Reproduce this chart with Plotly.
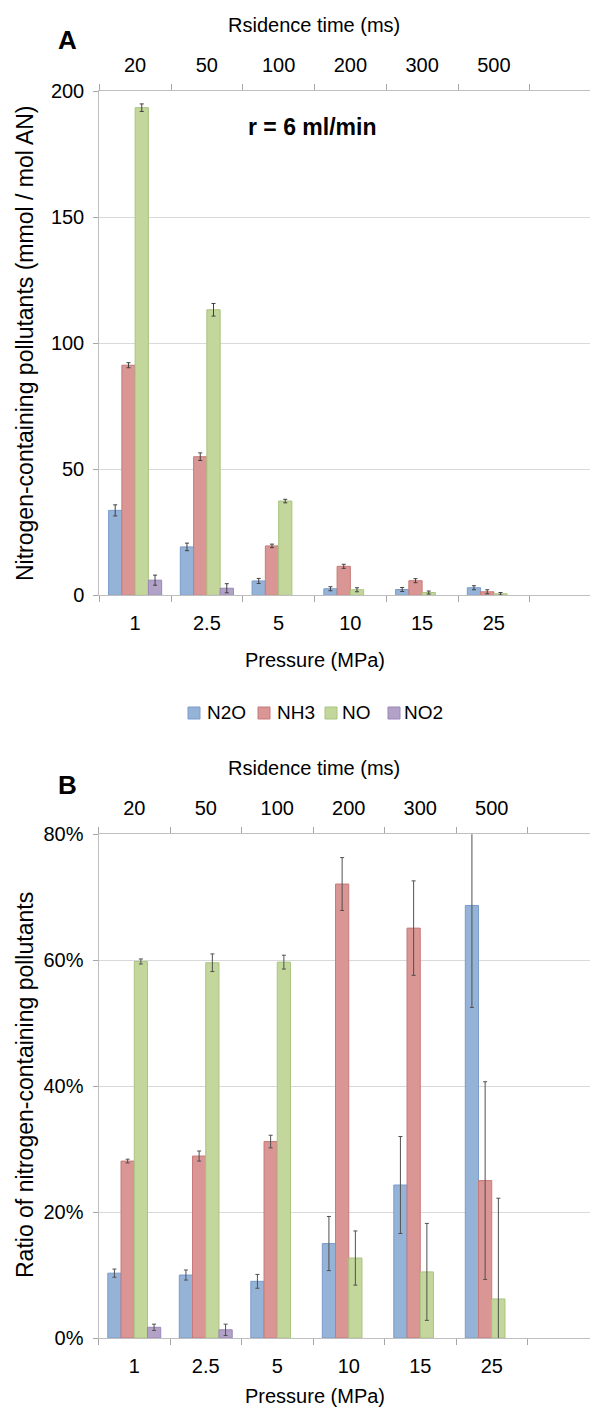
import plotly.graph_objects as go

pressure = ["1", "2.5", "5", "10", "15", "25"]
residence = ["20", "50", "100", "200", "300", "500"]
species = ["N2O", "NH3", "NO", "NO2"]

# Panel A: mmol / mol AN
a_n2o = [33.7, 19.2, 5.7, 2.6, 2.3, 3.0]
a_n2o_err = [2.2, 1.5, 1.0, 0.8, 0.8, 0.8]
a_nh3 = [91.3, 55.0, 19.6, 11.5, 5.8, 1.4]
a_nh3_err = [1.0, 1.5, 0.7, 0.8, 0.8, 0.8]
a_no = [193.5, 113.3, 37.4, 2.2, 1.1, 0.6]
a_no_err = [1.5, 2.5, 0.7, 0.8, 0.6, 0.5]
a_no2 = [6.0, 2.8, None, None, None, None]
a_no2_err = [2.0, 1.8, 0, 0, 0, 0]

# Panel B: ratio (%)
b_n2o = [10.3, 10.0, 9.0, 15.0, 24.3, 68.7]
b_n2o_err = [0.65, 0.8, 1.1, 4.3, 7.7, 16.2]
b_nh3 = [28.1, 28.9, 31.2, 72.1, 65.1, 25.0]
b_nh3_err = [0.3, 0.8, 1.0, 4.2, 7.5, 15.7]
b_no = [59.8, 59.6, 59.7, 12.7, 10.5, 6.2]
b_no_err = [0.4, 1.4, 1.1, 4.3, 7.7, 16.0]
b_no2 = [1.7, 1.3, None, None, None, None]
b_no2_err = [0.5, 0.9, 0, 0, 0, 0]

fills = ["#95B3D7", "#D99694", "#C3D69B", "#B3A2C7"]
lines = ["#7A9CCB", "#C77B78", "#AAC47F", "#9A86B8"]

# page body has an 8px margin; work in screen pixels and convert
OFF = 8
W, H = 596, 1402
FONT = "Liberation Sans, Arial, sans-serif"


def px(x):
    return (x - OFF) / W


def py(y):
    return 1 - (y - OFF) / H


fig = go.Figure()

panelA = [(a_n2o, a_n2o_err), (a_nh3, a_nh3_err), (a_no, a_no_err), (a_no2, a_no2_err)]
panelB = [(b_n2o, b_n2o_err), (b_nh3, b_nh3_err), (b_no, b_no_err), (b_no2, b_no2_err)]

for i, (vals, errs) in enumerate(panelA):
    fig.add_trace(go.Bar(
        x=pressure, y=vals, name=species[i], legendgroup=species[i],
        marker=dict(color=fills[i], line=dict(color=lines[i], width=1)),
        error_y=dict(type="data", array=errs, visible=True, color="#404040",
                     thickness=1, width=2),
        xaxis="x", yaxis="y", showlegend=False))

for i, (vals, errs) in enumerate(panelB):
    fig.add_trace(go.Bar(
        x=pressure, y=vals, name=species[i], legendgroup=species[i],
        marker=dict(color=fills[i], line=dict(color=lines[i], width=1)),
        error_y=dict(type="data", array=errs, visible=True, color="#505050",
                     thickness=1, width=2),
        xaxis="x2", yaxis="y2", showlegend=False))

# invisible traces registering the residence-time categories on the top axes
fig.add_trace(go.Scatter(x=residence, y=[0] * 6, mode="markers", opacity=0,
                         xaxis="x3", yaxis="y", showlegend=False, hoverinfo="skip"))
fig.add_trace(go.Scatter(x=residence, y=[0] * 6, mode="markers", opacity=0,
                         xaxis="x4", yaxis="y2", showlegend=False, hoverinfo="skip"))

tickfont = dict(family=FONT, size=20, color="#000000")
common_x = dict(type="category", tickson="boundaries", ticks="outside", ticklen=6,
                tickcolor="#A6A6A6", showline=True, linecolor="#BFBFBF", linewidth=1,
                showgrid=False, zeroline=False, tickfont=tickfont,
                ticklabelstandoff=10, fixedrange=True)
common_y = dict(showgrid=True, gridcolor="#D9D9D9", gridwidth=1, showline=True,
                linecolor="#BFBFBF", ticks="outside", ticklen=5, tickcolor="#A6A6A6",
                zeroline=False, tickfont=tickfont, ticklabelstandoff=5, tick0=0)

# plot areas (screen pixels)
A_left, A_right, A_top, A_bot = 99.25, 590, 91.3, 595.3
B_left, B_right, B_top, B_bot = 98.5, 590, 834.3, 1338
rA = [-0.5, 5.5 + (A_right - (A_left + 6 * 71.75)) / 71.75]
rB = [-0.5, 5.5 + (B_right - (B_left + 6 * 71.5)) / 71.5]

fig.update_layout(
    width=W, height=H,
    margin=dict(l=0, r=0, t=0, b=0, autoexpand=False),
    paper_bgcolor="white", plot_bgcolor="white",
    font=dict(family=FONT, size=20, color="#000000"),
    barmode="group", bargap=0.26, bargroupgap=0, showlegend=False,
    xaxis=dict(common_x, domain=[px(A_left), px(A_right)], anchor="y", side="bottom",
               categoryorder="array", categoryarray=pressure, range=rA),
    xaxis3=dict(common_x, overlaying="x", anchor="y", side="top",
                categoryorder="array", categoryarray=residence, range=rA),
    yaxis=dict(common_y, domain=[py(A_bot), py(A_top)], range=[0, 200], dtick=50,
               anchor="x"),
    xaxis2=dict(common_x, domain=[px(B_left), px(B_right)], anchor="y2", side="bottom",
                categoryorder="array", categoryarray=pressure, range=rB),
    xaxis4=dict(common_x, overlaying="x2", anchor="y2", side="top",
                categoryorder="array", categoryarray=residence, range=rB),
    yaxis2=dict(common_y, domain=[py(B_bot), py(B_top)], range=[0, 80], dtick=20,
                ticksuffix="%", anchor="x2"),
)

ann = [
    dict(text="<b>A</b>", x=67, y=40, size=26),
    dict(text="Rsidence time (ms)", x=314, y=25, size=20),
    dict(text="<b>r = 6 ml/min</b>", x=312, y=127, size=23),
    dict(text="Pressure (MPa)", x=315, y=660, size=20),
    dict(text="<b>B</b>", x=67, y=785, size=26),
    dict(text="Rsidence time (ms)", x=314, y=768, size=20),
    dict(text="Pressure (MPa)", x=315, y=1396, size=20),
]
for a in ann:
    fig.add_annotation(text=a["text"], x=px(a["x"]), y=py(a["y"]), xref="paper",
                       yref="paper", xanchor="center", yanchor="middle",
                       showarrow=False,
                       font=dict(family=FONT, size=a["size"], color="#000000"))

fig.add_annotation(text="Nitrogen-containing pollutants (mmol / mol AN)",
                   x=px(25), y=py(343), xref="paper", yref="paper", textangle=-90,
                   xanchor="center", yanchor="middle", showarrow=False,
                   font=dict(family=FONT, size=23, color="#000000"))
fig.add_annotation(text="Ratio of nitrogen-containing pollutants",
                   x=px(25), y=py(1085), xref="paper", yref="paper", textangle=-90,
                   xanchor="center", yanchor="middle", showarrow=False,
                   font=dict(family=FONT, size=23, color="#000000"))

# legend (shared by both panels)
leg_sq = [188, 258, 325, 388]
leg_tx = [205, 275, 340, 402]
leg_y = 713
for i, name in enumerate(species):
    fig.add_shape(type="rect", xref="paper", yref="paper",
                  x0=px(leg_sq[i]), x1=px(leg_sq[i] + 12),
                  y0=py(leg_y + 6), y1=py(leg_y - 6),
                  fillcolor=fills[i], line=dict(color=lines[i], width=1))
    fig.add_annotation(text=name, x=px(leg_tx[i]), y=py(leg_y), xref="paper",
                       yref="paper", xanchor="left", yanchor="middle",
                       showarrow=False,
                       font=dict(family=FONT, size=19, color="#000000"))

fig.write_html("out.html")
